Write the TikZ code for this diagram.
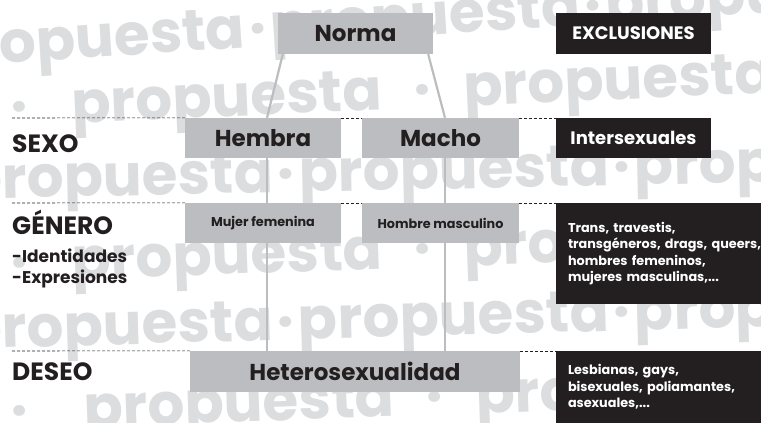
\documentclass[tikz,border=0pt]{standalone}
\usepackage{fontspec}
\setmainfont{Poppins}
\usepackage{tikz}
\usepackage{xcolor}

\definecolor{boxgrey}{HTML}{BCBDC0}
\definecolor{inkblack}{HTML}{231F20}
\definecolor{markgrey}{HTML}{DCDDDF}

\newcommand{\tightdot}{\kern4pt·\kern4pt}
\newcommand{\loosedot}{\hspace{32pt}·\hspace{32pt}}

\tikzset{
        wmark/.style={anchor=base west, inner sep=0pt, text=markgrey,
                font=\bfseries\fontsize{58}{58}\selectfont},
        gbox/.style={fill=boxgrey, text=inkblack, inner sep=0pt, minimum height=40pt},
        xbox/.style={fill=inkblack, text=white, inner sep=0pt, minimum height=40pt},
        bigtext/.style={font=\bfseries\fontsize{23}{26}\selectfont},
        midtext/.style={font=\bfseries\fontsize{18}{20}\selectfont},
        smalltext/.style={font=\bfseries\fontsize{12.8}{16.5}\selectfont},
        rowlabel/.style={anchor=base west, inner sep=0pt, text=inkblack,
                font=\bfseries\fontsize{25}{25}\selectfont},
        sublabel/.style={rowlabel, font=\bfseries\fontsize{17}{17}\selectfont},
        link/.style={draw=boxgrey, line width=2.2pt},
        guide/.style={draw=inkblack, line width=0.6pt, dash pattern=on 3pt off 2pt}
}

\begin{document}
\begin{tikzpicture}[x=1pt,y=-1pt]
        \useasboundingbox (0,0) rectangle (761,423);
        \clip (0,0) rectangle (761,423);

        \node[wmark, rotate=3.8] (wmA) at (-64,68) {propuesta\tightdot propuesta\tightdot propuesta};
        \node[wmark, rotate=2.5] (wmB) at (11,126) {·\hspace{44pt}propuesta\loosedot propuesta};
        \node[wmark, rotate=1.2] (wmC) at (-37,199) {propuesta\tightdot propuesta\tightdot propuesta};
        \node[wmark, rotate=2] (wmD) at (11,282) {·\hspace{44pt}propuesta\loosedot propuesta};
        \node[wmark, rotate=1.6] (wmE) at (-37,349) {propuesta\tightdot propuesta\tightdot propuesta};
        \node[wmark, rotate=2] (wmF) at (11,430) {·\hspace{56pt}propuesta\loosedot propuesta};

        \node[gbox, bigtext, minimum width=155pt, minimum height=41pt] (norma) at (355.5,33.5) {Norma};
        \node[xbox, midtext, minimum width=155pt, minimum height=41pt] (excl) at (633.5,33.5) {EXCLUSIONES};

        \node[rowlabel] (sexo) at (12,152) {SEXO};
        \node[gbox, bigtext, minimum width=156pt] (hembra) at (263,138) {Hembra};
        \node[gbox, bigtext, minimum width=157pt] (macho) at (440.5,138) {Macho};
        \node[xbox, midtext, minimum width=155pt] (inter) at (633.5,138) {Intersexuales};

        \node[rowlabel] (genero) at (12,234) {GÉNERO};
        \node[sublabel] (ident) at (12,262) {-Identidades};
        \node[sublabel] (expr) at (12,283) {-Expresiones};
        \node[gbox, smalltext, minimum width=156pt] (mujer) at (263,223) {Mujer femenina};
        \node[gbox, smalltext, minimum width=157pt] (hombre) at (440.5,223) {Hombre masculino};
        \node[xbox, smalltext,
        minimum width=205pt,
        minimum height=101pt,
        text width=181pt,
        align=left] (trans) at (658.5,253.5) {Trans, travestis,\\\mbox{transgéneros, drags, queers,}\\hombres femeninos,\\mujeres masculinas,...};

        \node[rowlabel] (deseo) at (12,380) {DESEO};
        \node[gbox, bigtext, minimum width=330pt, minimum height=41pt] (hetero) at (355,371.5) {Heterosexualidad};
        \node[xbox, smalltext,
        minimum width=205pt,
        minimum height=72pt,
        text width=181pt,
        align=left] (lesb) at (658.5,387) {Lesbianas, gays,\\bisexuales, poliamantes,\\asexuales,...};

        \coordinate (sexoline) at (12,118);
        \coordinate (generoline) at (12,203);
        \coordinate (deseoline) at (12,351);
        \draw[guide] (sexoline) -- (hembra.north west);
        \draw[guide] (hembra.north east) -- (macho.north west);
        \draw[guide] (macho.north east) -- (inter.north west);
        \draw[guide] (generoline) -- (mujer.north west);
        \draw[guide] (mujer.north east) -- (hombre.north west);
        \draw[guide] (hombre.north east) -- (trans.north west);
        \draw[guide] (deseoline) -- (hetero.north west);
        \draw[guide] (hetero.north east) -- (lesb.north west);

        \draw[link] ([xshift=5pt]norma.south west) -- ([xshift=4pt]hembra.north);
        \draw[link] ([xshift=4pt]hembra.south) -- ([xshift=4pt]mujer.north);
        \draw[link] ([xshift=4pt]mujer.south) -- ([xshift=4pt]mujer.south |- hetero.north);
        \draw[link] ([xshift=-5pt]norma.south east) -- ([xshift=4.5pt]macho.north);
        \draw[link] ([xshift=4.5pt]macho.south) -- ([xshift=4.5pt]hombre.north);
        \draw[link] ([xshift=4.5pt]hombre.south) -- ([xshift=4.5pt]hombre.south |- hetero.north);
\end{tikzpicture}
\end{document}
